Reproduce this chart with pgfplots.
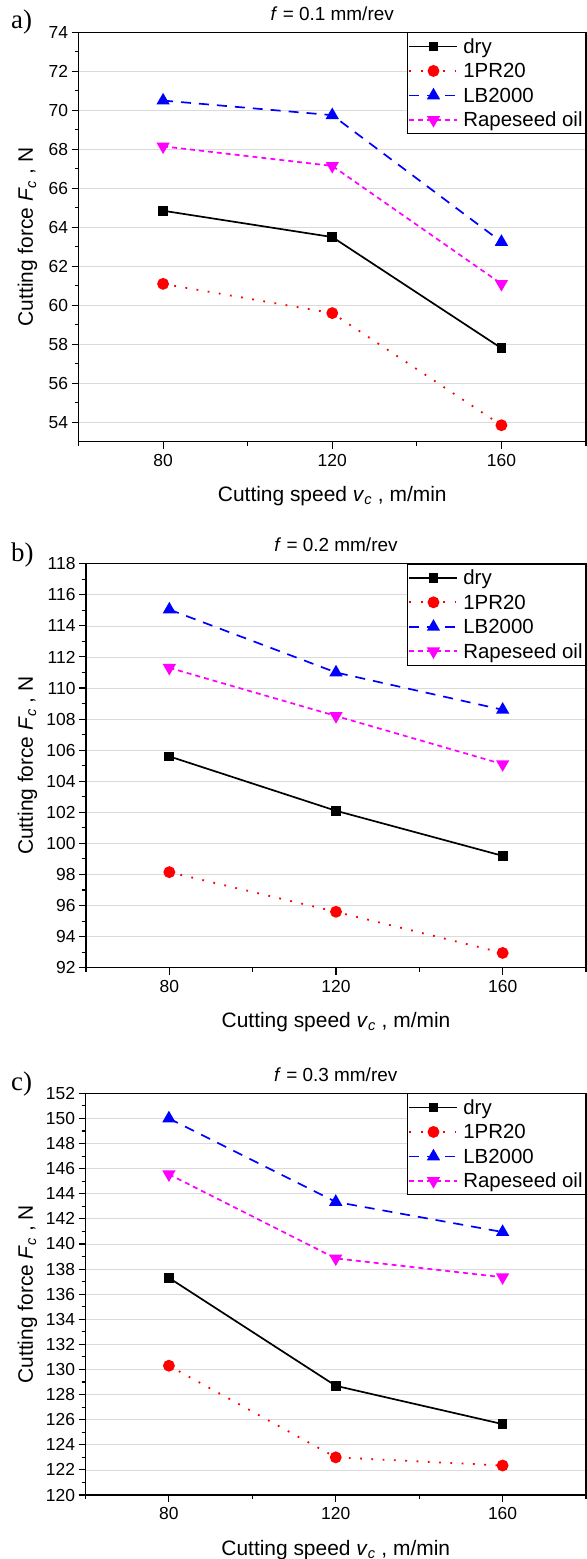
\documentclass[border=0pt]{standalone}
\usepackage{fontspec}
\setmainfont{Liberation Sans}
\newfontfamily\serifpanel{Liberation Serif}
\usepackage{pgfplots}
\pgfplotsset{compat=1.18}
\definecolor{gridgray}{RGB}{218,218,218}
\definecolor{mag}{RGB}{255,0,255}
\definecolor{rd}{RGB}{255,0,0}
\definecolor{bl}{RGB}{0,0,255}
\newcommand\ls{\rule[-4bp]{0pt}{19bp}}
\pgfplotsset{
  cfstyle/.style={
    scale only axis,
    anchor=north west,
    xmin=60, xmax=180,
    xtick={80,120,160},
    minor xtick={60,100,140,180},
    minor y tick num=1,
    tick align=outside,
    xtick pos=bottom, ytick pos=left,
    major tick length=7bp, minor tick length=4bp,
    every tick/.style={black, line width=1.1bp},
    axis line style={black, line width=1.3bp},
    ymajorgrids, major grid style={gridgray, line width=0.7bp},
    tick label style={font=\fontsize{17.5}{17.5}\selectfont},
    /pgf/number format/assume math mode=true,
    xticklabel style={yshift=-2bp},
    label style={font=\fontsize{21}{21}\selectfont},
    title style={font=\fontsize{19}{19}\selectfont, at={(axis description cs:0.5,1)}, anchor=base, yshift=6bp},
    xlabel style={at={(axis description cs:0.5,0)}, anchor=base, yshift=-60bp},
    xlabel={Cutting speed \textit{v}\textsubscript{\textit{c}} , m/min},
    ylabel={Cutting force \textit{F}\textsubscript{\textit{c}} , N},
    legend style={at={(1,1)}, anchor=north east, draw=black, line width=0.8bp, fill=white,
      font=\fontsize{20.5}{20.5}\selectfont, inner xsep=1bp, inner ysep=3.5bp, row sep=4bp,
      nodes={inner sep=2bp},
      /tikz/every odd column/.append style={column sep=3bp}},
    legend cell align=left,
    legend image code/.code={\draw[mark repeat=2, mark phase=2, #1] plot coordinates {(0bp,0bp) (24bp,0bp) (48bp,0bp)};},
  },
  sdry/.style={black, solid, line width=1.7bp, mark=square*, mark size=4bp, mark options={solid}},
  spr/.style={rd, line width=1.8bp, dash pattern=on 1.8bp off 9.5bp, mark=*, mark size=5bp, mark options={solid}},
  slb/.style={bl, line width=1.7bp, dash pattern=on 10bp off 8bp, mark=triangle*, mark size=6bp, mark options={solid}},
  srs/.style={mag, line width=1.7bp, dash pattern=on 5bp off 4bp, mark=triangle*, mark size=6bp, mark options={solid, rotate=180}},
}
\begin{document}
\begin{tikzpicture}
\useasboundingbox (0,0) rectangle (587bp,-1559bp);
% ---------- a) ----------
\begin{axis}[cfstyle, at={(78.5bp,-32.3bp)}, width=507.5bp, height=409.5bp,
  ymin=53, ymax=74, ytick={54,56,...,74},
  ylabel style={at={(axis description cs:-0.0897,0.5)}, anchor=base},
  title={\textit{f} = 0.1 mm/rev}]
\addplot[sdry] coordinates {(80,64.85) (120,63.5) (160,57.8)};
\addlegendentry{dry\ls}
\addplot[spr] coordinates {(80,61.1) (120,59.6) (160,53.85)};
\addlegendentry{1PR20\ls}
\addplot[slb] coordinates {(80,70.5) (120,69.75) (160,63.25)};
\addlegendentry{LB2000\ls}
\addplot[srs] coordinates {(80,68.15) (120,67.15) (160,61.1)};
\addlegendentry{Rapeseed oil\ls}
\end{axis}
% ---------- b) ----------
\begin{axis}[cfstyle, at={(86bp,-563.7bp)}, width=500bp, height=404bp,
  ymin=92, ymax=118, ytick={92,94,...,118},
  ylabel style={at={(axis description cs:-0.106,0.5)}, anchor=base},
  title={\textit{f} = 0.2 mm/rev}]
\addplot[sdry] coordinates {(80,105.6) (120,102.1) (160,99.2)};
\addlegendentry{dry\ls}
\addplot[spr] coordinates {(80,98.15) (120,95.6) (160,92.95)};
\addlegendentry{1PR20\ls}
\addplot[slb] coordinates {(80,115.05) (120,111.0) (160,108.6)};
\addlegendentry{LB2000\ls}
\addplot[srs] coordinates {(80,111.3) (120,108.2) (160,105.1)};
\addlegendentry{Rapeseed oil\ls}
\end{axis}
% ---------- c) ----------
\begin{axis}[cfstyle, at={(85.5bp,-1093.3bp)}, width=500.5bp, height=401.7bp,
  ymin=120, ymax=152, ytick={120,122,...,152},
  ylabel style={at={(axis description cs:-0.105,0.5)}, anchor=base},
  title={\textit{f} = 0.3 mm/rev}]
\addplot[sdry] coordinates {(80,137.3) (120,128.7) (160,125.65)};
\addlegendentry{dry\ls}
\addplot[spr] coordinates {(80,130.3) (120,123.0) (160,122.35)};
\addlegendentry{1PR20\ls}
\addplot[slb] coordinates {(80,150.0) (120,143.35) (160,140.95)};
\addlegendentry{LB2000\ls}
\addplot[srs] coordinates {(80,145.55) (120,138.85) (160,137.35)};
\addlegendentry{Rapeseed oil\ls}
\end{axis}
\node[font=\serifpanel\fontsize{27}{27}\selectfont, anchor=base west, inner sep=0pt] at (11bp,-28.5bp) {a)};
\node[font=\serifpanel\fontsize{27}{27}\selectfont, anchor=base west, inner sep=0pt] at (11bp,-561bp) {b)};
\node[font=\serifpanel\fontsize{27}{27}\selectfont, anchor=base west, inner sep=0pt] at (11bp,-1090bp) {c)};
\end{tikzpicture}
\end{document}
